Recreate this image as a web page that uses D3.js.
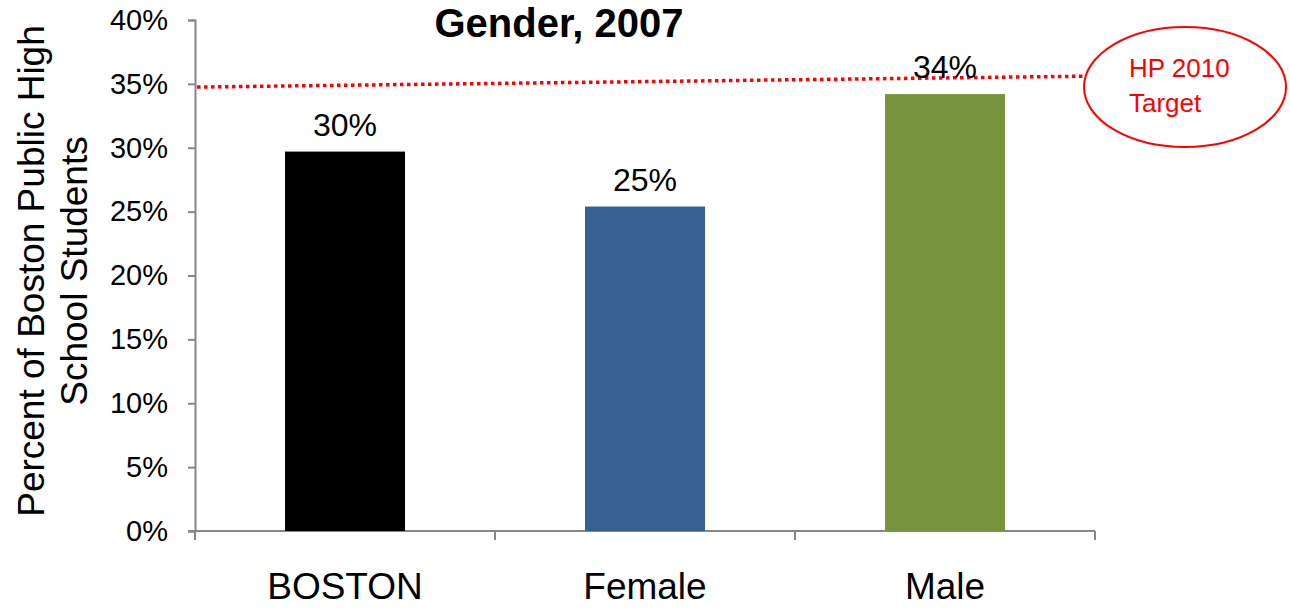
<!DOCTYPE html>
<html>
<head>
<meta charset="utf-8">
<script src="https://cdn.jsdelivr.net/npm/d3@7"></script>
<style>
  body { margin: 0; background: #fff; }
  text { font-family: "Liberation Sans", Arial, sans-serif; }
</style>
</head>
<body>
<script>
const categories = ["BOSTON", "Female", "Male"]
const values = [0.297, 0.254, 0.342]
const labels = ["30%", "25%", "34%"]
const colors = ["#000000", "#376092", "#77933C"]
const yTicks = [0, 0.05, 0.1, 0.15, 0.2, 0.25, 0.3, 0.35, 0.4]
// target line as drawn (slightly tilted in the source)
const targetStart = 0.3475
const targetEnd = 0.356

const width = 1290
const height = 614

const svg = d3.select("body")
    .append("svg")
    .attr("width", width)
    .attr("height", height)

const y = d3.scaleLinear()
    .domain([0, 0.4])
    .range([531, 20])
const x = d3.scaleBand()
    .domain(categories)
    .range([195, 1095])
    .paddingInner(0.6)
    .paddingOuter(0.3)

// y axis
const yAxis = svg.append("g")
    .attr("transform", "translate(195,0)")
    .call(d3.axisLeft(y)
        .tickValues(yTicks)
        .tickFormat(d3.format(".0%"))
        .tickSize(7)
        .tickSizeOuter(7)
        .tickPadding(20))
yAxis.select(".domain").attr("stroke", "#868686").attr("stroke-width", 2)
yAxis.selectAll(".tick line").attr("stroke", "#868686").attr("stroke-width", 2)
yAxis.selectAll(".tick text")
    .attr("fill", "#000")
    .style("font-size", "29px")
    .style("font-family", "'Liberation Sans', Arial, sans-serif")

// x axis: line, boundary ticks, centered labels
const step = x.step()
const bounds = d3.range(categories.length + 1).map(i => x.range()[0] + i * step)
svg.append("line")
    .attr("x1", 188).attr("x2", x.range()[1])
    .attr("y1", y(0)).attr("y2", y(0))
    .attr("stroke", "#868686").attr("stroke-width", 2)
svg.selectAll(".xtick")
    .data(bounds)
    .join("line")
    .attr("class", "xtick")
    .attr("x1", d => d).attr("x2", d => d)
    .attr("y1", y(0)).attr("y2", y(0) + 9)
    .attr("stroke", "#868686").attr("stroke-width", 2)
svg.selectAll(".xlabel")
    .data(categories)
    .join("text")
    .attr("class", "xlabel")
    .attr("x", d => x(d) + x.bandwidth() / 2)
    .attr("y", 599)
    .attr("text-anchor", "middle")
    .style("font-size", "37px")
    .text(d => d)

// bars
svg.selectAll(".bar")
    .data(values)
    .join("rect")
    .attr("class", "bar")
    .attr("x", (d, i) => x(categories[i]))
    .attr("width", x.bandwidth())
    .attr("y", d => y(d))
    .attr("height", d => y(0) - y(d))
    .attr("fill", (d, i) => colors[i])

// target line
svg.append("line")
    .attr("x1", x.range()[0] + 2).attr("y1", y(targetStart))
    .attr("x2", 1083).attr("y2", y(targetEnd))
    .attr("stroke", "#ff0000")
    .attr("stroke-width", 3.5)
    .attr("stroke-dasharray", "3.5,3.5")

// value labels
svg.selectAll(".vlabel")
    .data(values)
    .join("text")
    .attr("class", "vlabel")
    .attr("x", (d, i) => x(categories[i]) + x.bandwidth() / 2)
    .attr("y", d => y(d) - 16)
    .attr("text-anchor", "middle")
    .style("font-size", "32px")
    .text((d, i) => labels[i])

// target callout
svg.append("ellipse")
    .attr("cx", 1185).attr("cy", 87)
    .attr("rx", 101).attr("ry", 60)
    .attr("fill", "none")
    .attr("stroke", "#ff0000")
    .attr("stroke-width", 2)
const callout = svg.append("text")
    .attr("fill", "#ff0000")
    .style("font-size", "26px")
callout.append("tspan").attr("x", 1129).attr("y", 77).text("HP 2010")
callout.append("tspan").attr("x", 1129).attr("y", 112).text("Target")

// title
svg.append("text")
    .attr("x", 559)
    .attr("y", 37)
    .attr("text-anchor", "middle")
    .style("font-size", "40px")
    .style("font-weight", "bold")
    .text("Gender, 2007")

// y axis title
const yTitle = svg.append("text")
    .attr("transform", "translate(44,271) rotate(-90)")
    .attr("text-anchor", "middle")
    .style("font-size", "37px")
yTitle.append("tspan").attr("x", 0).attr("y", 0).text("Percent of Boston Public High")
yTitle.append("tspan").attr("x", 0).attr("y", 43).text("School Students")
</script>
</body>
</html>
